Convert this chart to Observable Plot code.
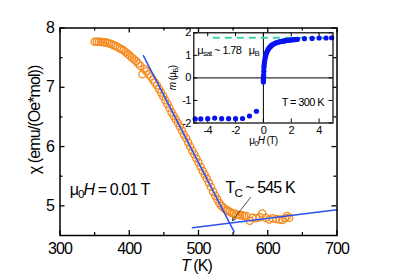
<!DOCTYPE html>
<html><head><meta charset="utf-8">
<script src="https://cdn.jsdelivr.net/npm/d3@7"></script>
<script src="https://cdn.jsdelivr.net/npm/@observablehq/plot@0.6"></script>
<style>
html,body{margin:0;padding:0;background:#fff;}
#wrap{position:relative;width:396px;height:278px;overflow:hidden;}
#inset{position:absolute;left:150px;top:26px;}
svg text{white-space:pre;}
</style></head><body>
<div id="wrap"><div id="main"></div><div id="inset"></div></div>
<script>
// ---- main panel data: susceptibility vs temperature ----
const temps = [350,353,356,359,362,365,368,371,374,377,380,383,386,389,392,395,398,401,404,407,410,413,416,419,422,425,428,431,434,437,440,443,446,449,452,455,458,461,464,467,470,473,476,479,482,485,488,491,494,497,500,503,506,509,512,515,518,521,524,527,530,533,536,539,542,545,548,551,554,557,560,563,566,569,574,578,583,588,592,597,602,607,612,617,621,625,628,631];
const chiVals = [7.77,7.77,7.77,7.77,7.76,7.76,7.75,7.74,7.73,7.71,7.70,7.68,7.66,7.64,7.62,7.59,7.56,7.53,7.50,7.47,7.44,7.40,7.36,7.22,7.31,7.27,7.22,7.18,7.13,7.08,7.03,6.97,6.91,6.85,6.78,6.72,6.65,6.58,6.52,6.46,6.40,6.34,6.27,6.20,6.14,6.07,6.00,5.93,5.865,5.80,5.73,5.66,5.59,5.525,5.46,5.39,5.32,5.24,5.17,5.11,5.05,5.00,4.97,4.94,4.92,4.90,4.88,4.87,4.86,4.85,4.84,4.84,4.83,4.83,4.75,4.80,4.79,4.81,4.87,4.80,4.77,4.79,4.78,4.77,4.76,4.79,4.83,4.80];
const fitSteepT = [420.4, 551.5];
const fitSteepChi = [7.535, 4.56];
const fitFlatT = [491.3, 700];
const fitFlatChi = [4.63, 4.935];
const tcArrowT = [575, 549];
const tcArrowChi = [5.14, 4.75];
const xTicks = [300,400,500,600,700];
const xMinor = [350,450,550,650];
const yTicks = [5,6,7,8];
const yMinor = [5.5,6.5,7.5];
const mainYLabel = "χ (emu/(Oe*mol))";
const fieldText = "μ0H = 0.01 T";
const tcText = "TC ~ 545 K";

// ---- inset data: magnetization loop at 300 K ----
const fieldH = [-4.9,-4.5,-4.0,-3.5,-3.0,-2.5,-2.0,-1.5,-1.0,-0.5,0,0,0,0.01,0.02,0.03,0.04,0.05,0.07,0.09,0.12,0.15,0.18,0.22,0.26,0.3,0.35,0.4,0.45,0.5,0.55,0.6,0.7,0.8,0.9,1.0,1.1,1.2,1.3,1.4,1.5,1.6,1.7,1.8,1.9,2.0,2.1,2.2,2.3,2.45,2.95,3.5,4.0,4.5,4.9];
const moment = [-1.82,-1.82,-1.81,-1.78,-1.81,-1.81,-1.81,-1.80,-1.69,-1.48,-0.18,-0.1,-0.02,0.06,0.14,0.3,0.45,0.55,0.66,0.75,0.86,0.95,1.03,1.1,1.16,1.22,1.27,1.32,1.36,1.39,1.42,1.45,1.49,1.52,1.55,1.57,1.59,1.61,1.62,1.63,1.64,1.65,1.66,1.67,1.68,1.68,1.69,1.70,1.70,1.71,1.74,1.75,1.77,1.77,1.78];
const mSat = 1.78;
const mSatStartH = -3.6;
const insetXTicks = [-4,-2,0,2,4];
const insetYTicks = [-2,-1,0,1,2];
const insetSatText = "μsat ~ 1.78  μB";
const insetTempText = "T = 300 K";

const FONT = "'Liberation Sans', Arial, Helvetica, sans-serif";
const ORANGE = "#f68b1f", BLUE = "#2e4ff0", DOTBLUE = "#0b12f2", MINT = "#3fd6a6";

const chiData = temps.map((t,i) => ({T: t, chi: chiVals[i]}));
const steep = fitSteepT.map((t,i) => ({T: t, chi: fitSteepChi[i]}));
const flat = fitFlatT.map((t,i) => ({T: t, chi: fitFlatChi[i]}));
const arrowData = [{x1: tcArrowT[0], y1: tcArrowChi[0], x2: tcArrowT[1], y2: tcArrowChi[1]}];
const loop = fieldH.map((h,i) => ({H: h, m: moment[i]}));

// main layout
const W = 396, H = 278, mL = 59.5, mR = 59.5, mT = 27.5, mB = 43;
const xD = [300,700], yD = [4.5,8];
const kx = (xD[1]-xD[0])/(W-mL-mR), ky = (yD[1]-yD[0])/(H-mT-mB);
const major = 5, minor = 3;

const main = Plot.plot({
  width: W, height: H, marginLeft: mL, marginRight: mR, marginTop: mT, marginBottom: mB,
  style: {fontFamily: FONT, fontSize: "16px", letterSpacing: "-0.9px", background: "white", color: "black"},
  x: {domain: xD, label: null},
  y: {domain: yD, label: null},
  marks: [
    Plot.ruleX(xTicks, {x: d => d, y1: yD[0], y2: yD[0] + major*ky, strokeWidth: 1.3}),
    Plot.ruleX(xTicks, {x: d => d, y1: yD[1], y2: yD[1] - major*ky, strokeWidth: 1.3}),
    Plot.ruleX(xMinor, {x: d => d, y1: yD[0], y2: yD[0] + minor*ky, strokeWidth: 1.3}),
    Plot.ruleX(xMinor, {x: d => d, y1: yD[1], y2: yD[1] - minor*ky, strokeWidth: 1.3}),
    Plot.ruleY(yTicks, {y: d => d, x1: xD[0], x2: xD[0] + major*kx, strokeWidth: 1.3}),
    Plot.ruleY(yTicks, {y: d => d, x1: xD[1], x2: xD[1] - major*kx, strokeWidth: 1.3}),
    Plot.ruleY(yMinor, {y: d => d, x1: xD[0], x2: xD[0] + minor*kx, strokeWidth: 1.3}),
    Plot.ruleY(yMinor, {y: d => d, x1: xD[1], x2: xD[1] - minor*kx, strokeWidth: 1.3}),
    Plot.axisX(xTicks, {tickSize: 0, tickPadding: 7, fontSize: 16, label: null, tickFormat: d => String(d)}),
    Plot.axisY(yTicks, {tickSize: 0, tickPadding: 6, fontSize: 16, label: null, tickFormat: d => String(d)}),
    Plot.dot(chiData, {x: "T", y: "chi", r: 3.6, stroke: ORANGE, strokeWidth: 1.3, fill: "none"}),
    Plot.line(steep, {x: "T", y: "chi", stroke: BLUE, strokeWidth: 1.5}),
    Plot.line(flat, {x: "T", y: "chi", stroke: BLUE, strokeWidth: 1.5}),
    Plot.arrow(arrowData, {x1: "x1", y1: "y1", x2: "x2", y2: "y2", stroke: "#222", strokeWidth: 0.8, headLength: 6}),
    Plot.text([mainYLabel], {frameAnchor: "left", y: 6.45, dx: -25, rotate: -90, textAnchor: "middle", lineAnchor: "middle", text: d => d, fontSize: 16, className: "ylab"}),
    Plot.text(["T (K)"], {frameAnchor: "bottom", x: 497, dy: 30, textAnchor: "middle", lineAnchor: "middle", text: d => d, fontSize: 16, className: "xlab"}),
    Plot.text([fieldText], {x: 314, y: 5.27, textAnchor: "start", lineAnchor: "middle", text: d => d, fontSize: 16, className: "field"}),
    Plot.text([tcText], {x: 539, y: 5.30, textAnchor: "start", lineAnchor: "middle", text: d => d, fontSize: 16, className: "tc"}),
    Plot.frame({strokeWidth: 1.5})
  ]
});
document.getElementById("main").append(main);

// inset layout
const iW = 188, iH = 124, iL = 43.3, iR = 5.5, iT = 6.3, iB = 27.5;
const ixD = [-5,5], iyD = [-2,2];
const ikx = (ixD[1]-ixD[0])/(iW-iL-iR), iky = (iyD[1]-iyD[0])/(iH-iT-iB);
const itk = 4;
const inset = Plot.plot({
  width: iW, height: iH, marginLeft: iL, marginRight: iR, marginTop: iT, marginBottom: iB,
  style: {fontFamily: FONT, fontSize: "11px", letterSpacing: "-0.6px", background: "transparent", color: "black"},
  x: {domain: ixD, label: null},
  y: {domain: iyD, label: null},
  marks: [
    Plot.frame({fill: "white", stroke: "none"}),
    Plot.ruleY([0], {stroke: "black", strokeWidth: 1}),
    Plot.ruleX([0], {stroke: "black", strokeWidth: 1}),
    Plot.ruleY([mSat], {x1: mSatStartH, x2: ixD[1], stroke: MINT, strokeWidth: 1.8, strokeDasharray: "7,5"}),
    Plot.ruleX(insetXTicks, {x: d => d, y1: iyD[0], y2: iyD[0] + itk*iky}),
    Plot.ruleX(insetXTicks, {x: d => d, y1: iyD[1], y2: iyD[1] - itk*iky}),
    Plot.ruleY(insetYTicks, {y: d => d, x1: ixD[0], x2: ixD[0] + itk*ikx}),
    Plot.ruleY(insetYTicks, {y: d => d, x1: ixD[1], x2: ixD[1] - itk*ikx}),
    Plot.dot(loop, {x: "H", y: "m", r: 2.6, fill: DOTBLUE, stroke: "none"}),
    Plot.axisX(insetXTicks, {tickSize: 0, tickPadding: 3, fontSize: 11, label: null, tickFormat: d => String(d)}),
    Plot.axisY(insetYTicks, {tickSize: 0, tickPadding: 3, fontSize: 11, label: null, tickFormat: d => String(d)}),
    Plot.text([insetSatText], {x: -4.76, y: 1.22, textAnchor: "start", lineAnchor: "middle", text: d => d, fontSize: 11, className: "msat"}),
    Plot.text([insetTempText], {x: 1.31, y: -1.08, textAnchor: "start", lineAnchor: "middle", text: d => d, fontSize: 11}),
    Plot.text(["m (μB)"], {frameAnchor: "left", y: 0, dx: -21, rotate: -90, textAnchor: "middle", lineAnchor: "middle", text: d => d, fontSize: 10, className: "iylab"}),
    Plot.text(["μ0H (T)"], {frameAnchor: "bottom", x: 0, dy: 18, textAnchor: "middle", lineAnchor: "middle", text: d => d, fontSize: 10, className: "ixlab"}),
    Plot.frame({stroke: "black", strokeWidth: 1.2})
  ]
});
document.getElementById("inset").append(inset);

// rich text (subscripts / italics) applied to the real text nodes
function rich(svg, cls, segs) {
  const t = d3.select(svg).select(`g.${cls} text`);
  if (t.empty()) return;
  t.text(null);
  let shifted = false;
  segs.forEach(s => {
    const ts = t.append("tspan").text(s.t);
    if (s.it) ts.attr("font-style", "italic");
    if (s.sub && !shifted) { ts.attr("dy", "0.3em").attr("font-size", "72%"); shifted = true; }
    else if (!s.sub && shifted) { ts.attr("dy", "-0.22em"); shifted = false; }
    else if (s.sub) ts.attr("font-size", "72%");
  });
}
rich(main, "xlab", [{t: "T", it: true}, {t: " (K)"}]);
rich(main, "field", [{t: "μ"}, {t: "0", sub: true}, {t: "H", it: true}, {t: " = 0.01 T"}]);
rich(main, "tc", [{t: "T"}, {t: "C", sub: true}, {t: " ~ 545 K"}]);
rich(inset, "msat", [{t: "μ"}, {t: "sat", sub: true}, {t: " ~ 1.78   μ"}, {t: "B", sub: true}]);
rich(inset, "iylab", [{t: "m", it: true}, {t: " (μ"}, {t: "B", sub: true}, {t: ")"}]);
rich(inset, "ixlab", [{t: "μ"}, {t: "0", sub: true}, {t: "H", it: true}, {t: " (T)"}]);
</script>
</body></html>
